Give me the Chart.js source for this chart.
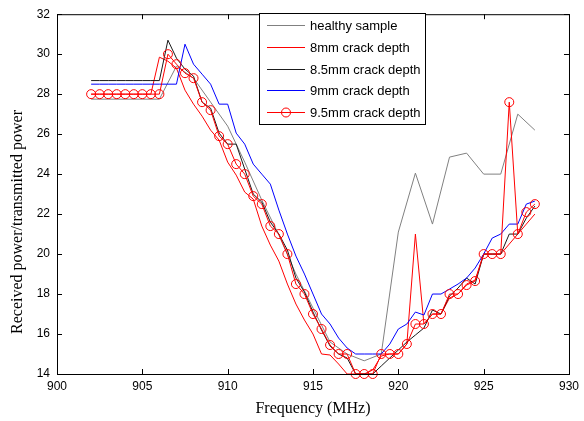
<!DOCTYPE html>
<html>
<head>
<meta charset="utf-8">
<script src="https://cdn.jsdelivr.net/npm/chart.js@4.4.1/dist/chart.umd.min.js"></script>
<style>
  html,body{margin:0;padding:0;background:#fff;}
  #wrap{width:584px;height:421px;}
</style>
</head>
<body>
<div id="wrap"><canvas id="chart" width="584" height="421"></canvas></div>
<script>

/* DATA */

const seriesNames = ["healthy sample","8mm crack depth","8.5mm crack depth","9mm crack depth","9.5mm crack depth"];

// healthy sample was measured every 1 MHz
const freqHealthy = [902,903,904,905,906,907,908,909,910,911,912,913,914,915,916,917,918,919,920,921,922,923,924,925,926,927,928];
const healthy = [27.75,27.75,27.75,27.75,27.75,29.4,28.8,27.6,26.4,24.6,22.7,20.95,19.0,17.3,15.6,15.0,14.66,15.0,21.1,24.05,21.5,24.85,25.05,24.0,24.0,27.0,26.2];

// crack samples every 0.5 MHz
const freqHalf = [902,902.5,903,903.5,904,904.5,905,905.5,906,906.5,907,907.5,908,908.5,909,909.5,910,910.5,911,911.5,912,912.5,913,913.5,914,914.5,915,915.5,916,916.5,917,917.5,918,918.5,919,919.5,920,920.5,921,921.5,922,922.5,923,923.5,924,924.5,925,925.5,926,926.5,927,927.5,928];

const crack8 = [28,28,28,28,28,28,28,28,29.85,29.65,29.3,28.2,27.5,26.9,26.2,25.7,24.6,23.95,23.1,22.75,21.4,20.45,19.65,18.5,17.5,16.7,16.0,15.0,14.95,14.5,14.0,14.0,14.0,14.2,14.9,15.0,15.0,15.5,21.0,16.5,17.0,17.0,17.8,18.0,18.5,18.7,20.0,20.0,20.0,20.5,21.0,21.5,22.0];

const crack85 = [28.68,28.68,28.68,28.68,28.68,28.68,28.68,28.68,28.68,30.7,29.8,29.25,28.9,27.6,27.3,26.05,25.5,25.5,24.25,23.0,22.6,21.6,21.0,20.2,18.8,18.1,17.1,16.2,15.4,15.0,14.8,14.0,14.0,14.0,14.4,14.8,15.2,15.6,15.95,16.3,17.2,17.0,17.9,18.3,18.8,18.5,20.0,20.0,20.0,21.0,21.0,21.8,22.4];

const crack9 = [28.5,28.5,28.5,28.5,28.5,28.5,28.5,28.5,28.5,28.5,28.5,30.5,29.5,29.0,28.5,27.5,27.5,26.05,25.5,24.5,24.0,23.5,22.2,21.0,19.9,19.0,18.0,17.0,16.5,15.8,15.3,15.0,15.0,15.0,15.0,15.5,16.25,16.5,17.1,16.95,18.0,18.0,18.25,18.5,18.8,19.3,20.0,20.8,21.0,21.5,21.5,22.5,22.65];

const crack95 = [28,28,28,28,28,28,28,28,28,30.0,29.5,29.05,28.8,27.6,27.2,25.9,25.5,24.5,24.0,22.9,22.5,21.4,21.0,20.0,18.5,18.0,17.0,16.25,15.45,15.0,15.0,14.0,14.0,14.0,15.0,15.0,15.0,15.5,16.5,16.5,17.0,17.0,18.0,18.0,18.45,18.65,20.0,20.0,20.0,27.6,21.0,22.1,22.5];

const xTicks = [900,905,910,915,920,925,930];
const yTicks = [14,16,18,20,22,24,26,28,30,32];

const colors = ["#808080","#ff0000","#1a1a1a","#0000ff","#ff0000"];

function pts(xs, ys){
  return xs.map((x,i)=>({x:x, y:ys[i]}));
}

/* FRAME, INWARD TICKS, TITLES, LEGEND */

const decor = {
  id:"decor",
  afterDraw(chart){
    const ctx = chart.ctx;
    const a = chart.chartArea;
    const xs = chart.scales.x;
    const ys = chart.scales.y;

    ctx.save();
    ctx.strokeStyle = "#000";
    ctx.lineWidth = 1;
    ctx.strokeRect(a.left+0.5, a.top+0.5, a.right-a.left, a.bottom-a.top);

    ctx.beginPath();
    xTicks.forEach(t=>{
      const px = Math.round(xs.getPixelForValue(t))+0.5;
      ctx.moveTo(px, a.bottom); ctx.lineTo(px, a.bottom-5);
      ctx.moveTo(px, a.top); ctx.lineTo(px, a.top+5);
    });
    yTicks.forEach(t=>{
      const py = Math.round(ys.getPixelForValue(t))+0.5;
      ctx.moveTo(a.left, py); ctx.lineTo(a.left+5, py);
      ctx.moveTo(a.right, py); ctx.lineTo(a.right-5, py);
    });
    ctx.stroke();

    // axis titles
    ctx.fillStyle = "#000";
    ctx.font = "16px 'Liberation Serif', 'Times New Roman', serif";
    ctx.textAlign = "center";
    ctx.textBaseline = "middle";
    ctx.fillText("Frequency (MHz)", (a.left+a.right)/2, 409);
    ctx.translate(18, 222);
    ctx.rotate(-Math.PI/2);
    ctx.fillText("Received power/transmitted power", 0, 0);
    ctx.restore();

    // legend box
    ctx.save();
    const bx = 259.5, by = 13.5, bw = 166, bh = 111;
    ctx.fillStyle = "#fff";
    ctx.fillRect(bx, by, bw, bh);
    ctx.strokeStyle = "#000";
    ctx.lineWidth = 1;
    ctx.strokeRect(bx, by, bw, bh);
    ctx.font = "13px 'Liberation Sans', Arial, sans-serif";
    ctx.textAlign = "left";
    ctx.textBaseline = "middle";
    const rows = [25, 47, 69, 90, 112];
    seriesNames.forEach((name,i)=>{
      const ry = rows[i] + 0.5;
      ctx.strokeStyle = colors[i];
      ctx.beginPath();
      ctx.moveTo(267, ry); ctx.lineTo(305, ry);
      ctx.stroke();
      if(i === 4){
        ctx.beginPath();
        ctx.arc(286, ry, 4.5, 0, Math.PI*2);
        ctx.stroke();
      }
      ctx.fillStyle = "#000";
      ctx.fillText(name, 310, rows[i]+1);
    });
    ctx.restore();
  }
};

/* CHART */

const lineDefaults = {
  borderWidth:1,
  pointRadius:0,
  tension:0,
  fill:false,
  clip:false
};

new Chart(document.getElementById("chart"), {
  type:"line",
  data:{
    datasets:[
      Object.assign({}, lineDefaults, {
        label:seriesNames[4], data:pts(freqHalf, crack95), borderColor:colors[4], order:1,
        pointRadius:4.5, pointStyle:"circle", pointBorderColor:colors[4],
        pointBackgroundColor:"rgba(0,0,0,0)", pointBorderWidth:1
      }),
      Object.assign({}, lineDefaults, {label:seriesNames[3], data:pts(freqHalf, crack9), borderColor:colors[3], order:2}),
      Object.assign({}, lineDefaults, {label:seriesNames[2], data:pts(freqHalf, crack85), borderColor:colors[2], order:3}),
      Object.assign({}, lineDefaults, {label:seriesNames[1], data:pts(freqHalf, crack8), borderColor:colors[1], order:4}),
      Object.assign({}, lineDefaults, {label:seriesNames[0], data:pts(freqHealthy, healthy), borderColor:colors[0], order:5})
    ]
  },
  options:{
    responsive:false,
    animation:false,
    events:[],
    layout:{padding:{left:0, right:11, top:9, bottom:0}},
    plugins:{legend:{display:false}, tooltip:{enabled:false}},
    scales:{
      x:{
        type:"linear", min:900, max:930,
        afterBuildTicks(s){ s.ticks = xTicks.map(v=>({value:v})); },
        afterFit(s){ s.height = 47; },
        grid:{display:false, drawTicks:false},
        border:{display:false},
        ticks:{
          color:"#000", padding:5,
          font:{family:"'Liberation Sans', Arial, sans-serif", size:12},
          callback:v=>String(v)
        }
      },
      y:{
        type:"linear", min:14, max:32,
        afterBuildTicks(s){ s.ticks = yTicks.map(v=>({value:v})); },
        afterFit(s){ s.width = 57; },
        grid:{display:false, drawTicks:false},
        border:{display:false},
        ticks:{
          color:"#000", padding:7,
          font:{family:"'Liberation Sans', Arial, sans-serif", size:12},
          callback:v=>String(v)
        }
      }
    }
  },
  plugins:[decor]
});

</script>
</body>
</html>
